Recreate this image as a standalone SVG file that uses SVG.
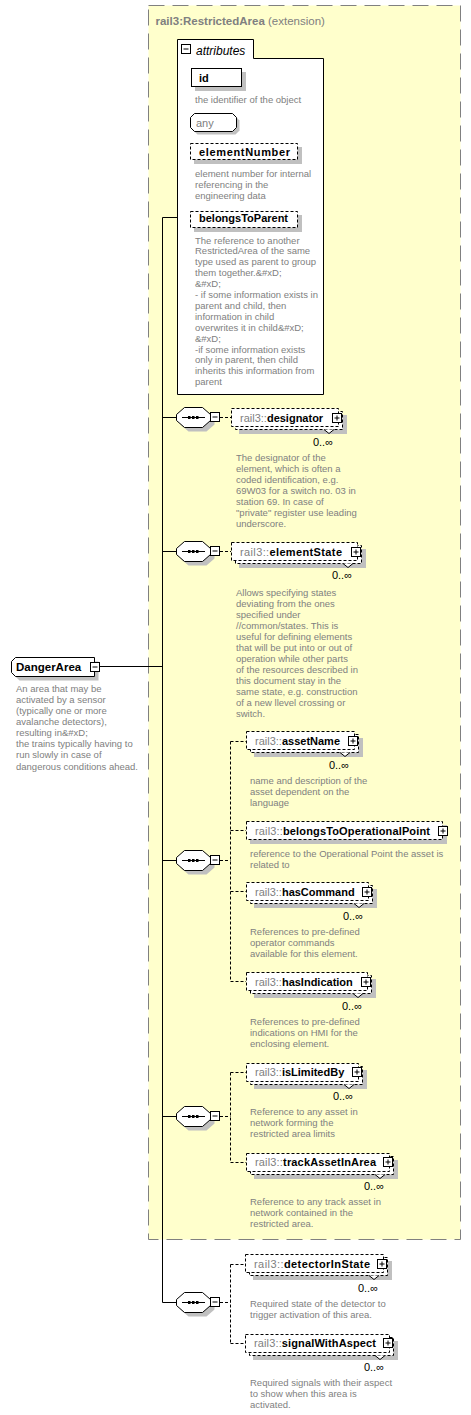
<svg xmlns="http://www.w3.org/2000/svg" width="471" height="1415" viewBox="0 0 471 1415">
<defs>
<style>
text{font-family:'Liberation Sans',Arial,sans-serif}
.t{font-size:11px;font-weight:bold;fill:#000}
.p{font-weight:normal;fill:#808080}
.d{font-size:9.5px;fill:#808080}
.c{font-size:11px;fill:#000;text-anchor:end}
.sh{fill:#c0c0c0}
.sb{fill:#fff;stroke:#000}
.db{fill:#fff;stroke:#000;stroke-dasharray:3,2}
.ln{fill:none;stroke:#000}
.dl{fill:none;stroke:#000;stroke-dasharray:3,2}
</style>
<g id="plus"><rect x="0.5" y="0.5" width="9" height="9" fill="#fff" stroke="#000"/><path d="M2.5 5H7.5M5 2.5V7.5" stroke="#000"/></g>
<g id="minus"><rect x="0.5" y="0.5" width="9" height="9" fill="#fff" stroke="#000"/><path d="M2.5 5H7.5" stroke="#000"/></g>
<g id="seq">
<polygon class="sh" points="12.5,-6 30.5,-6 38.5,1 38.5,7 30.5,14 12.5,14 4.5,7 4.5,1"/>
<polygon class="sb" points="8.5,-10 26.5,-10 34.5,-3 34.5,3 26.5,10 8.5,10 0.5,3 0.5,-3"/>
<path d="M6 0H29" stroke="#000"/>
<rect x="12" y="-1.5" width="2.5" height="3"/><rect x="16" y="-1.5" width="2.5" height="3"/><rect x="20" y="-1.5" width="2.5" height="3"/>
</g>
</defs>
<rect width="471" height="1415" fill="#fff"/>

<g id="extension">
<rect x="148.5" y="5.5" width="312" height="1234" fill="#FFFFCC" stroke="#808080" stroke-dasharray="16,8"/>
<text x="155.5" y="25" style="font-size:11.5px;font-weight:bold;fill:#808080">rail3:RestrictedArea<tspan style="font-weight:normal"> (extension)</tspan></text>
</g>

<g id="connectors">
<path class="ln" d="M162.5 217.5H177M162.5 217.5V1302.5M99 666.5H162.5M162.5 417.5H176M162.5 551.5H176M162.5 860.5H176M162.5 1116.5H176M162.5 1302.5H176"/>
<path class="dl" d="M220 417.5H231M220 551.5H231M220 860.5H230.5M230.5 741.5V981.5M230.5 741.5H246M230.5 830.5H246M230.5 891.5H246M230.5 981.5H246M220 1116.5H230.5M230.5 1072.5V1162.5M230.5 1072.5H246M230.5 1162.5H246M220 1302.5H230.5M230.5 1264.5V1343.5M230.5 1264.5H245M230.5 1343.5H245"/>
</g>

<g id="attributes">
<path class="sb" d="M177.5 394.5V39.5H253.5V58.5H323.5V394.5Z"/>
<use href="#minus" x="181" y="44"/>
<text x="196" y="54.5" style="font-size:12px;font-style:italic;fill:#000">attributes</text>
</g>

<g id="attr-id">
<rect class="sh" x="195" y="72" width="51" height="19"/>
<rect class="sb" x="191.5" y="68.5" width="50" height="18"/>
<text class="t" x="199" y="82.3">id</text>
<text class="d" x="195" y="103">the identifier of the object</text>
</g>

<g id="attr-any">
<polygon class="sh" points="197.5,116.5 235.5,116.5 239.5,120.5 239.5,130.5 235.5,134.5 197.5,134.5 193.5,130.5 193.5,120.5"/>
<polygon class="sb" points="194.5,113.5 232.5,113.5 236.5,117.5 236.5,127.5 232.5,131.5 194.5,131.5 190.5,127.5 190.5,117.5"/>
<text x="196" y="127.3" style="font-size:11px;fill:#808080">any</text>
</g>

<g id="attr-elementNumber">
<rect class="sh" x="194" y="147" width="108" height="17"/>
<rect class="db" x="190.5" y="143.5" width="107" height="16"/>
<text class="t" x="199" y="155.7" textLength="91">elementNumber</text>
<text class="d" x="195" y="177"><tspan x="195">element number for internal</tspan><tspan x="195" dy="10.8">referencing in the</tspan><tspan x="195" dy="10.8">engineering data</tspan></text>
</g>

<g id="attr-belongsToParent">
<rect class="sh" x="194" y="215" width="108" height="17"/>
<rect class="db" x="190.5" y="211.5" width="107" height="16"/>
<text class="t" x="199" y="222.3">belongsToParent</text>
<text class="d" x="195" y="243.5"><tspan x="195">The reference to another</tspan><tspan x="195" dy="10.9">RestrictedArea of the same</tspan><tspan x="195" dy="10.9">type used as parent to group</tspan><tspan x="195" dy="10.9">them together.&amp;#xD;</tspan><tspan x="195" dy="10.9">&amp;#xD;</tspan><tspan x="195" dy="10.9">- if some information exists in</tspan><tspan x="195" dy="10.9">parent and child, then</tspan><tspan x="195" dy="10.9">information in child</tspan><tspan x="195" dy="10.9">overwrites it in child&amp;#xD;</tspan><tspan x="195" dy="10.9">&amp;#xD;</tspan><tspan x="195" dy="10.9">-if some information exists</tspan><tspan x="195" dy="10.9">only in parent, then child</tspan><tspan x="195" dy="10.9">inherits this information from</tspan><tspan x="195" dy="10.9">parent</tspan></text>
</g>

<g id="DangerArea">
<path class="sh" d="M15.5 665.5L19.5 661.5H98.5V680.5H19.5L15.5 676.5Z"/>
<path class="sb" d="M11.5 661.5L15.5 657.5H94.5V676.5H15.5L11.5 672.5Z"/>
<text x="16" y="671" style="font-size:11.5px;font-weight:bold;fill:#000">DangerArea</text>
<use href="#minus" x="90" y="662"/>
<text class="d" x="16" y="691.8"><tspan x="16">An area that may be</tspan><tspan x="16" dy="11.1">activated by a sensor</tspan><tspan x="16" dy="11.1">(typically one or more</tspan><tspan x="16" dy="11.1">avalanche detectors),</tspan><tspan x="16" dy="11.1">resulting in&amp;#xD;</tspan><tspan x="16" dy="11.1">the trains typically having to</tspan><tspan x="16" dy="11.1">run slowly in case of</tspan><tspan x="16" dy="11.1">dangerous conditions ahead.</tspan></text>
</g>

<g id="seq1"><use href="#seq" x="176" y="417.5"/><use href="#minus" x="210" y="412"/></g>
<g id="seq2"><use href="#seq" x="176" y="551.5"/><use href="#minus" x="210" y="546"/></g>
<g id="seq3"><use href="#seq" x="176" y="860.5"/><use href="#minus" x="210" y="855"/></g>
<g id="seq4"><use href="#seq" x="176" y="1116.5"/><use href="#minus" x="210" y="1111"/></g>
<g id="seq5"><use href="#seq" x="176" y="1302.5"/><use href="#minus" x="210" y="1297"/></g>

<g id="designator">
<rect class="sh" x="239" y="415" width="108" height="19"/>
<rect class="db" x="235.5" y="411.5" width="107" height="18"/>
<rect class="db" x="231.5" y="408.5" width="107" height="18"/>
<path class="sb" d="M324 429.5l5 4l5 -4"/>
<use href="#plus" x="332" y="413"/>
<text class="t" x="240" y="421.5"><tspan class="p">rail3::</tspan>designator</text>
<text class="c" x="333" y="445.7">0..∞</text>
<text class="d" x="236" y="461.2"><tspan x="236">The designator of the</tspan><tspan x="236" dy="11">element, which is often a</tspan><tspan x="236" dy="11">coded identification, e.g.</tspan><tspan x="236" dy="11">69W03 for a switch no. 03 in</tspan><tspan x="236" dy="11">station 69. In case of</tspan><tspan x="236" dy="11">"private" register use leading</tspan><tspan x="236" dy="11">underscore.</tspan></text>
</g>

<g id="elementState">
<rect class="sh" x="239" y="549" width="127" height="19"/>
<rect class="db" x="235.5" y="545.5" width="126" height="18"/>
<rect class="db" x="231.5" y="542.5" width="126" height="18"/>
<path class="sb" d="M343 563.5l5 4l5 -4"/>
<use href="#plus" x="351" y="547"/>
<text class="t" x="240" y="555.7" textLength="102"><tspan class="p">rail3::</tspan>elementState</text>
<text class="c" x="352" y="579">0..∞</text>
<text class="d" x="236" y="595.5"><tspan x="236">Allows specifying states</tspan><tspan x="236" dy="11">deviating from the ones</tspan><tspan x="236" dy="11">specified under</tspan><tspan x="236" dy="11">//common/states. This is</tspan><tspan x="236" dy="11">useful for defining elements</tspan><tspan x="236" dy="11">that will be put into or out of</tspan><tspan x="236" dy="11">operation while other parts</tspan><tspan x="236" dy="11">of the resources described in</tspan><tspan x="236" dy="11">this document stay in the</tspan><tspan x="236" dy="11">same state, e.g. construction</tspan><tspan x="236" dy="11">of a new llevel crossing or</tspan><tspan x="236" dy="11">switch.</tspan></text>
</g>

<g id="assetName">
<rect class="sh" x="254" y="738" width="109" height="19"/>
<rect class="db" x="250.5" y="734.5" width="108" height="18"/>
<rect class="db" x="246.5" y="731.5" width="108" height="18"/>
<path class="sb" d="M340 752.5l5 4l5 -4"/>
<use href="#plus" x="348" y="736"/>
<text class="t" x="255" y="745"><tspan class="p">rail3::</tspan>assetName</text>
<text class="c" x="349" y="769">0..∞</text>
<text class="d" x="250" y="783.5"><tspan x="250">name and description of the</tspan><tspan x="250" dy="11">asset dependent on the</tspan><tspan x="250" dy="11">language</tspan></text>
</g>

<g id="belongsToOperationalPoint">
<rect class="sh" x="250" y="825" width="197" height="19"/>
<rect class="db" x="246.5" y="821.5" width="196" height="18"/>
<use href="#plus" x="438" y="826"/>
<text class="t" x="255" y="834.7" textLength="175"><tspan class="p">rail3::</tspan>belongsToOperationalPoint</text>
<text class="d" x="250" y="856.8"><tspan x="250">reference to the Operational Point the asset is</tspan><tspan x="250" dy="11">related to</tspan></text>
</g>

<g id="hasCommand">
<rect class="sh" x="254" y="889" width="123" height="19"/>
<rect class="db" x="250.5" y="885.5" width="122" height="18"/>
<rect class="db" x="246.5" y="882.5" width="122" height="18"/>
<path class="sb" d="M354 903.5l5 4l5 -4"/>
<use href="#plus" x="362" y="887"/>
<text class="t" x="255" y="895.7"><tspan class="p">rail3::</tspan>hasCommand</text>
<text class="c" x="363" y="919.7">0..∞</text>
<text class="d" x="250" y="935.2"><tspan x="250">References to pre-defined</tspan><tspan x="250" dy="11">operator commands</tspan><tspan x="250" dy="11">available for this element.</tspan></text>
</g>

<g id="hasIndication">
<rect class="sh" x="254" y="979" width="122" height="19"/>
<rect class="db" x="250.5" y="975.5" width="121" height="18"/>
<rect class="db" x="246.5" y="972.5" width="121" height="18"/>
<path class="sb" d="M353 993.5l5 4l5 -4"/>
<use href="#plus" x="361" y="977"/>
<text class="t" x="255" y="985.7"><tspan class="p">rail3::</tspan>hasIndication</text>
<text class="c" x="362" y="1009.7">0..∞</text>
<text class="d" x="250" y="1025.2"><tspan x="250">References to pre-defined</tspan><tspan x="250" dy="11">indications on HMI for the</tspan><tspan x="250" dy="11">enclosing element.</tspan></text>
</g>

<g id="isLimitedBy">
<rect class="sh" x="254" y="1070" width="113" height="19"/>
<rect class="db" x="250.5" y="1066.5" width="112" height="18"/>
<rect class="db" x="246.5" y="1063.5" width="112" height="18"/>
<path class="sb" d="M344 1084.5l5 4l5 -4"/>
<use href="#plus" x="352" y="1067"/>
<text class="t" x="255" y="1076.3"><tspan class="p">rail3::</tspan>isLimitedBy</text>
<text class="c" x="353" y="1099.7">0..∞</text>
<text class="d" x="250" y="1115.2"><tspan x="250">Reference to any asset in</tspan><tspan x="250" dy="11">network forming the</tspan><tspan x="250" dy="11">restricted area limits</tspan></text>
</g>

<g id="trackAssetInArea">
<rect class="sh" x="254" y="1160" width="144" height="19"/>
<rect class="db" x="250.5" y="1156.5" width="143" height="18"/>
<rect class="db" x="246.5" y="1153.5" width="143" height="18"/>
<path class="sb" d="M375 1174.5l5 4l5 -4"/>
<use href="#plus" x="383" y="1157"/>
<text class="t" x="255" y="1166.3" textLength="121"><tspan class="p">rail3::</tspan>trackAssetInArea</text>
<text class="c" x="384" y="1189.7">0..∞</text>
<text class="d" x="250" y="1205.2"><tspan x="250">Reference to any track asset in</tspan><tspan x="250" dy="11">network contained in the</tspan><tspan x="250" dy="11">restricted area.</tspan></text>
</g>

<g id="detectorInState">
<rect class="sh" x="253" y="1261" width="139" height="19"/>
<rect class="db" x="249.5" y="1257.5" width="138" height="18"/>
<rect class="db" x="245.5" y="1254.5" width="138" height="18"/>
<path class="sb" d="M369 1275.5l5 4l5 -4"/>
<use href="#plus" x="377" y="1259"/>
<text class="t" x="254" y="1268" textLength="116"><tspan class="p">rail3::</tspan>detectorInState</text>
<text class="c" x="378" y="1292.3">0..∞</text>
<text class="d" x="250" y="1306.8"><tspan x="250">Required state of the detector to</tspan><tspan x="250" dy="11">trigger activation of this area.</tspan></text>
</g>

<g id="signalWithAspect">
<rect class="sh" x="253" y="1341" width="145" height="19"/>
<rect class="db" x="249.5" y="1337.5" width="144" height="18"/>
<rect class="db" x="245.5" y="1334.5" width="144" height="18"/>
<path class="sb" d="M375 1355.5l5 4l5 -4"/>
<use href="#plus" x="383" y="1338"/>
<text class="t" x="254" y="1347.3" textLength="122"><tspan class="p">rail3::</tspan>signalWithAspect</text>
<text class="c" x="384" y="1370.7">0..∞</text>
<text class="d" x="250" y="1386.2"><tspan x="250">Required signals with their aspect</tspan><tspan x="250" dy="11">to show when this area is</tspan><tspan x="250" dy="11">activated.</tspan></text>
</g>
</svg>
